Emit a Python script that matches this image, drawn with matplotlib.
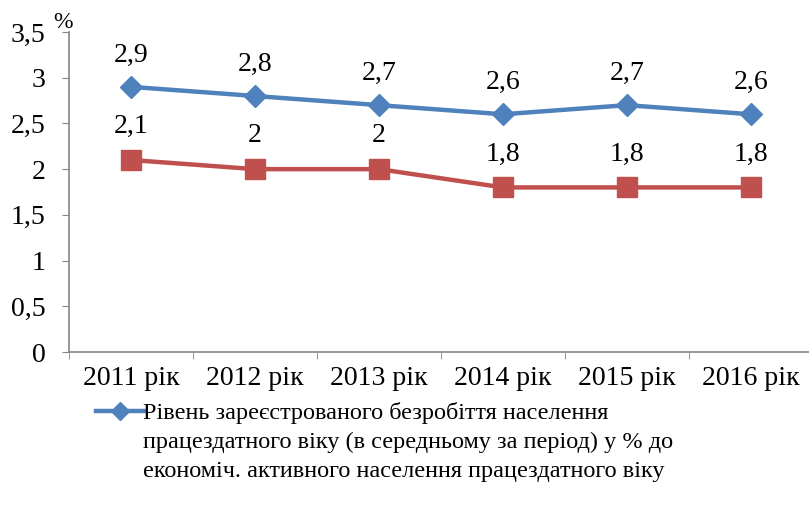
import matplotlib.pyplot as plt
from matplotlib.lines import Line2D
import numpy as np

years = ['2011 рік', '2012 рік', '2013 рік', '2014 рік', '2015 рік', '2016 рік']
registered = [2.9, 2.8, 2.7, 2.6, 2.7, 2.6]
second = [2.1, 2.0, 2.0, 1.8, 1.8, 1.8]
yticks = [0, 0.5, 1, 1.5, 2, 2.5, 3, 3.5]
legend_text = ('Рівень зареєстрованого безробіття населення\n'
               'працездатного віку (в середньому за період) у % до\n'
               'економіч. активного населення працездатного віку')

plt.rcParams['font.family'] = ['Liberation Serif', 'DejaVu Serif']
blue = '#4F81BD'
red = '#C0504D'
fs = 20

fig = plt.figure(figsize=(8.09, 5.22), dpi=100)
ax = fig.add_axes([69 / 809, 1 - 352 / 522, 744 / 809, 320 / 522])

x = np.arange(len(years))
ax.plot(x, registered, color=blue, lw=3.2, marker='D', ms=11, mec=blue, mfc=blue)
ax.plot(x, second, color=red, lw=3.2, marker='s', ms=14, mec=red, mfc=red)

for xi, v in zip(x, registered):
    ax.annotate(f'{v:g}'.replace('.', ','), (xi, v), xytext=(0, 23),
                textcoords='offset points', ha='center', va='center', fontsize=fs)
for xi, v in zip(x, second):
    ax.annotate(f'{v:g}'.replace('.', ','), (xi, v), xytext=(0, 24),
                textcoords='offset points', ha='center', va='center', fontsize=fs)

ax.set_xlim(-0.5, len(years) - 0.5)
ax.set_ylim(0, 3.5)
ax.set_yticks(yticks)
ax.set_yticklabels([f'{t:g}'.replace('.', ',') for t in yticks], fontsize=fs)
ax.set_xticks(x)
ax.set_xticklabels(years, fontsize=fs)
ax.set_xticks(np.arange(-0.5, len(years)), minor=True)
ax.tick_params(axis='x', which='major', length=0, pad=10)
ax.tick_params(axis='x', which='minor', length=5, color='#868686', direction='out')
ax.tick_params(axis='y', length=5, color='#868686', pad=12)

for s in ['top', 'right']:
    ax.spines[s].set_visible(False)
for s in ['left', 'bottom']:
    ax.spines[s].set_color('#868686')
    ax.spines[s].set_linewidth(1.2)

fig.text(63 / 809, 1 - 22 / 522, '%', fontsize=17, ha='center', va='center')

# legend (only the first series is visible in the cropped original)
ly = 1 - 411 / 522
fig.add_artist(Line2D([96 / 809, 145 / 809], [ly, ly], transform=fig.transFigure,
                      color=blue, lw=3.2))
fig.add_artist(Line2D([120 / 809], [ly], transform=fig.transFigure, color=blue,
                      marker='D', ms=9, mfc=blue, mec=blue))
fig.text(143 / 809, 1 - 402 / 522, legend_text, fontsize=17.5, ha='left', va='top',
         linespacing=1.5)

fig.savefig('out.png', dpi=100)
